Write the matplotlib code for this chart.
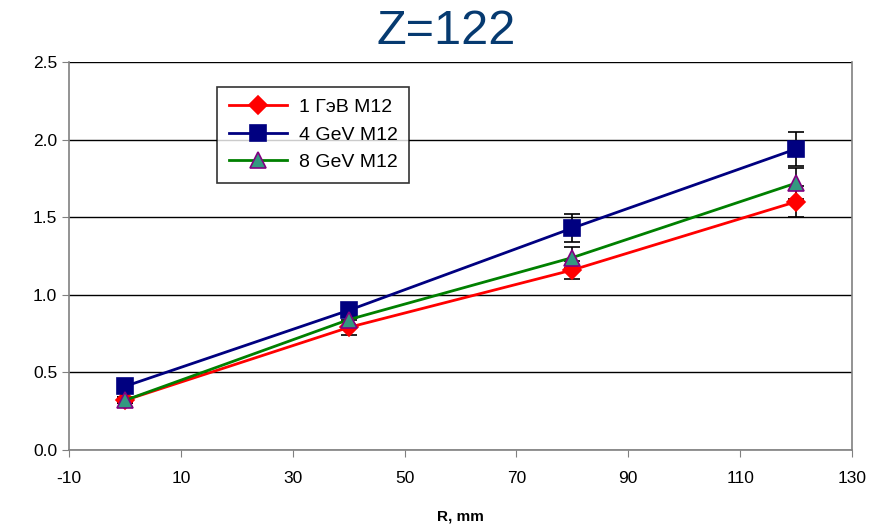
import matplotlib.pyplot as plt

plt.rcParams['font.family'] = ['Liberation Sans', 'DejaVu Sans']
plt.rcParams['axes.unicode_minus'] = False

r_mm = [0, 40, 80, 120]
labels = ["1 ГэВ M12", "4 GeV M12", "8 GeV M12"]
values = [
    [0.32, 0.79, 1.16, 1.60],
    [0.41, 0.90, 1.43, 1.94],
    [0.32, 0.84, 1.24, 1.72],
]
errors = [
    [0.02, 0.05, 0.06, 0.10],
    [0.02, 0.04, 0.09, 0.11],
    [0.02, 0.04, 0.07, 0.10],
]

line_colors = ["#ff0000", "#000080", "#008000"]
markers = ["D", "s", "^"]
face_colors = ["#ff0000", "#000080", "#339980"]
edge_colors = ["#ff0000", "#000080", "#800080"]
sizes = [9, 11, 11]


def main():
    fig = plt.figure(figsize=(8.76, 5.26), dpi=100)
    ax = fig.add_axes([0.0788, 0.1445, 0.8938, 0.7375])

    for y, e, lab, c, m, fc, ec, s in zip(values, errors, labels, line_colors,
                                          markers, face_colors, edge_colors, sizes):
        ax.errorbar(r_mm, y, yerr=e, fmt="none", ecolor="black", elinewidth=1.2,
                    capsize=6, capthick=1.2, zorder=2)
        ax.plot(r_mm, y, color=c, lw=2, marker=m, markersize=s,
                markerfacecolor=fc, markeredgecolor=ec, markeredgewidth=1.2,
                label=lab, zorder=3)

    ax.set_xlim(-10, 130)
    ax.set_ylim(0, 2.5)
    ax.set_xticks(range(-10, 131, 20))
    ax.set_yticks([0.0, 0.5, 1.0, 1.5, 2.0, 2.5])
    ax.set_yticklabels(["0.0", "0.5", "1.0", "1.5", "2.0", "2.5"])
    ax.yaxis.grid(True, color="black", lw=1)
    ax.set_axisbelow(True)
    for side in ["left", "bottom", "right"]:
        ax.spines[side].set_color("#808080")
        ax.spines[side].set_linewidth(1.2)
    ax.spines["top"].set_visible(False)
    ax.tick_params(axis="both", direction="out", length=5, color="#808080",
                   labelsize=12.5, labelcolor="black")
    ax.tick_params(axis="x", pad=10)

    ax.set_xlabel("R, mm", fontsize=11, fontweight="bold", labelpad=17)

    leg = ax.legend(loc="upper left", bbox_to_anchor=(0.189, 0.936), fontsize=14,
                    frameon=True, fancybox=False, edgecolor="black",
                    handlelength=3.0, handletextpad=0.6, borderpad=0.6,
                    labelspacing=0.5, borderaxespad=0)
    leg.get_frame().set_linewidth(1.2)

    fig.text(0.509, 0.94, "Z=122", ha="center", va="center", fontsize=35,
             color="#063a70")

    fig.savefig("out.png", dpi=100)


if __name__ == "__main__":
    main()
